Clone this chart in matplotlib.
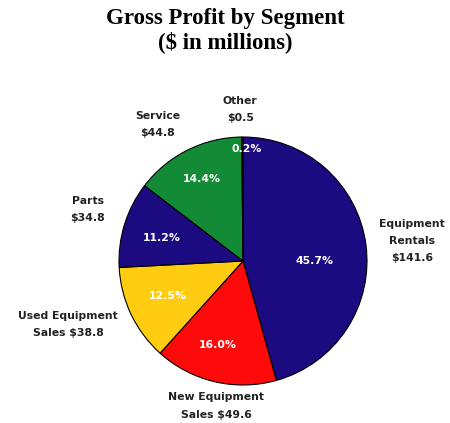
import numpy as np
import matplotlib.pyplot as plt

segments = ['Equipment\nRentals', 'New Equipment\nSales', 'Used Equipment\nSales', 'Parts', 'Service', 'Other']
profit = [141.6, 49.6, 38.8, 34.8, 44.8, 0.5]
pct_labels = ['45.7%', '16.0%', '12.5%', '11.2%', '14.4%', '0.2%']
colors = ['#1C0A80', '#FF0A0A', '#FFCC11', '#1C0A80', '#138A35', '#B03030']

# label placement: angle (deg) and distance (fraction of radius)
lab_ang = [6.7, -100.5, -160, 161.8, 122, 91]
lab_dist = [1.37, 1.19, 1.50, 1.32, 1.30, 1.22]
pct_ang = [0, -106.6, -155, 164, 116.6, 88]
pct_dist = [0.58, 0.71, 0.67, 0.68, 0.74, 0.90]

fig = plt.figure(figsize=(4.5, 4.23), dpi=100)
ax = fig.add_axes([0, 0, 1, 1])

cx, cy, r = 243, 162, 124
wedges, _ = ax.pie(profit, colors=colors, startangle=90, counterclock=False,
                   center=(cx, cy), radius=r, frame=True,
                   wedgeprops=dict(edgecolor='black', linewidth=0.8))
ax.set_xlim(0, 450)
ax.set_ylim(0, 423)
ax.set_aspect('equal')
ax.axis('off')

for i, w in enumerate(wedges):
    name = segments[i]
    if '\n' in name and not name.startswith('Equipment'):
        txt = name + f' ${profit[i]:.1f}'
    else:
        txt = name + f'\n${profit[i]:.1f}'
    a = np.deg2rad(lab_ang[i])
    d = lab_dist[i]
    ax.text(cx + d * r * np.cos(a), cy + d * r * np.sin(a), txt,
            ha='center', va='center', multialignment='center',
            fontsize=7.8, fontweight='bold', family='DejaVu Sans', linespacing=1.9,
            color='#222222')
    a = np.deg2rad(pct_ang[i])
    p = pct_dist[i]
    ax.text(cx + p * r * np.cos(a), cy + p * r * np.sin(a), pct_labels[i],
            ha='center', va='center', color='white',
            fontsize=7.8, fontweight='bold', family='DejaVu Sans')

fig.text(0.5, 0.982, 'Gross Profit by Segment\n($ in millions)', ha='center', va='top',
         fontsize=16.5, fontweight='bold', family='Liberation Serif', linespacing=1.15)

fig.savefig('out.png', dpi=100)
